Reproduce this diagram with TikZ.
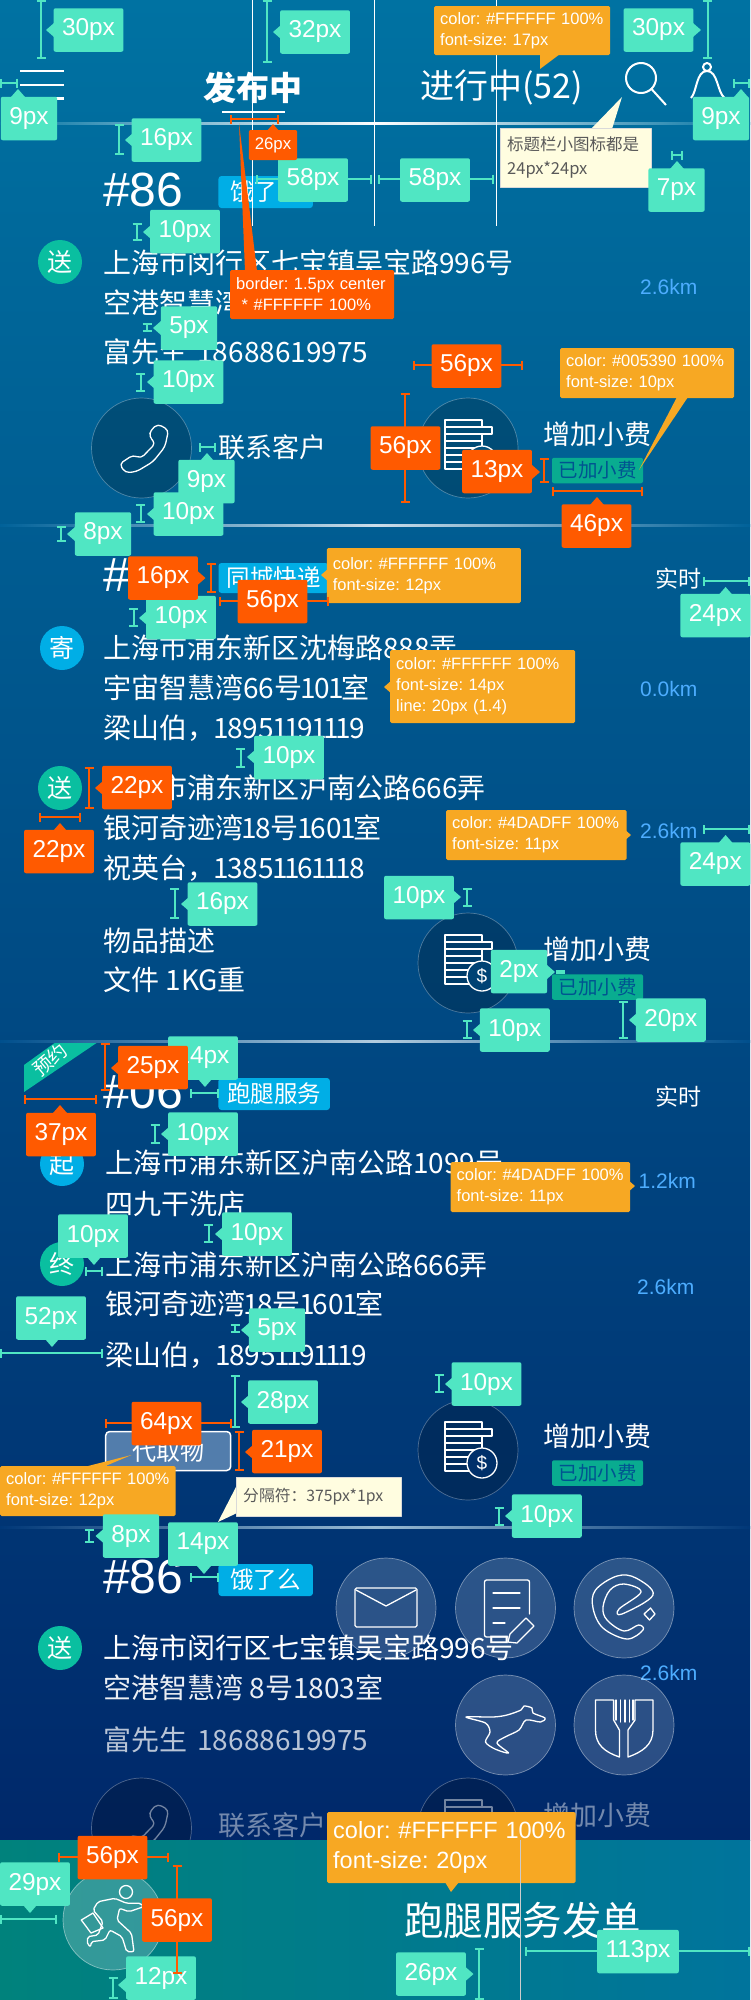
\documentclass[tikz,border=0pt]{standalone}
\usepackage{fontspec}
\setmainfont{Liberation Sans}
\newfontfamily\cjk{Noto Sans CJK SC}
\usetikzlibrary{arrows.meta}
\definecolor{gtagc}{HTML}{50E6C3}
\definecolor{otagc}{HTML}{FF5A00}
\definecolor{callc}{HTML}{F7A823}
\definecolor{sendc}{HTML}{0ABFA0}
\definecolor{bluec}{HTML}{00AEE6}
\definecolor{kmc}{HTML}{4DADFF}
\definecolor{feec}{HTML}{005390}
\definecolor{bgtop}{RGB}{0,114,162}
\definecolor{bgmid}{RGB}{0,85,146}
\definecolor{bgend}{RGB}{0,40,106}
\definecolor{barleft}{RGB}{0,130,124}
\definecolor{barright}{RGB}{0,116,156}
\definecolor{fetchc}{RGB}{82,125,172}
\definecolor{coina}{RGB}{0,82,128}
\definecolor{coinb}{RGB}{0,66,116}
\definecolor{coinc}{RGB}{0,48,106}
\definecolor{coind}{RGB}{0,40,95}
\newcommand{\tipL}[3]{\fill[#1] (#2,#3) -- ++(8,-7) -- ++(0,14) -- cycle;}
\newcommand{\tipR}[3]{\fill[#1] (#2,#3) -- ++(-8,-7) -- ++(0,14) -- cycle;}
\newcommand{\tipU}[3]{\fill[#1] (#2,#3) -- ++(-7,8) -- ++(14,0) -- cycle;}
\newcommand{\tipD}[3]{\fill[#1] (#2,#3) -- ++(-7,-8) -- ++(14,0) -- cycle;}
\newcommand{\nar}{\kern-1.75pt 1\kern-1.75pt}
\tikzset{
  gtag/.style={fill=gtagc,text=white,rounded corners=2pt,inner xsep=8.5pt,inner ysep=0pt,minimum height=43.5pt,font=\fontsize{24.4}{26}\selectfont},
  otag/.style={gtag,fill=otagc},
  gdim/.style={draw=gtagc,line width=2pt,{Bar[width=9pt,line width=2pt]}-{Bar[width=9pt,line width=2pt]}},
  odim/.style={gdim,draw=otagc},
  ocall/.style={fill=callc,text=white,rounded corners=1.5pt,anchor=west,align=left,inner xsep=6pt,inner ysep=2pt,font=\fontsize{16.5}{21}\selectfont},
  ynote/.style={fill=yellow!12,draw=black!15,text=black!65,anchor=west,align=left,inner xsep=7pt,inner ysep=2pt,font=\cjk\fontsize{16.5}{24}\selectfont},
  addr/.style={text=white,anchor=west,inner sep=0pt,font=\cjk\fontsize{28}{30}\selectfont},
  num/.style={text=white,anchor=west,inner sep=0pt,font=\fontsize{48}{50}\selectfont},
  km/.style={text=kmc,anchor=west,inner sep=0pt,font=\fontsize{21}{24}\selectfont},
  dots/.style={circle,minimum size=44pt,inner sep=0pt,fill=sendc,text=white,font=\cjk\fontsize{25}{27}\selectfont},
  dotb/.style={dots,fill=bluec},
  kind/.style={fill=bluec,text=white,rounded corners=3pt,inner sep=0pt,font=\cjk\fontsize{23.5}{25}\selectfont},
  fee/.style={fill=sendc!90!black,text=feec,rounded corners=2pt,inner sep=0pt,minimum width=91pt,minimum height=25.5pt,font=\cjk\fontsize{19.5}{21}\selectfont},
  act/.style={text=white,anchor=west,inner sep=0pt,font=\cjk\fontsize{27}{29}\selectfont},
  roundbtn/.style={circle,minimum size=100pt,inner sep=0pt,draw=white,draw opacity=.3,line width=.7pt},
  menubtn/.style={roundbtn,fill=white,fill opacity=.17,draw opacity=.42},
  lineicon/.style={draw=white,line width=1.3pt,line join=round,line cap=round},
  pics/phoneicon/.style={code={
    \draw[lineicon,rounded corners=4pt] (16.5,-24) -- (27,-18) -- (23.5,-1.3) -- (11.5,13.7) -- (-5.2,23.7) -- (-16.2,24.7) -- (-22,16) -- (-8.5,7) -- (-.5,10.3) -- (14,-4.7) -- (7.7,-11.3) -- (9.2,-18) -- cycle;
  }},
  pics/coinicon/.style={code={
    \draw[lineicon] (-23,-28) rectangle (14,-21) (-23,-21) rectangle (24,-14) (-23,-14) rectangle (14,21);
    \draw[lineicon] (-23,-7) -- (14,-7) (-23,0) -- (14,0) (-23,7) -- (14,7) (-23,14) -- (14,14);
    \draw[lineicon,fill=#1] (14,13) circle (15);
    \node[text=white,inner sep=0pt,font=\fontsize{19}{20}\selectfont] at (14,13) {\$};
  }},
}
\begin{document}
\frenchspacing
\begin{tikzpicture}[x=1pt,y=-1pt,line join=round]
\useasboundingbox (0,0) rectangle (750,2000);
% 背景
\shade[top color=bgtop,middle color=bgmid,bottom color=bgend] (0,0) rectangle (750,1840);

% 第一单
\node[num] (numA) at (103,190) {\#86};
\node[kind,minimum width=94.5pt,minimum height=32pt] (kindA) at (265.7,192) {饿了么};
\node[dots] (sendA) at (60,262) {送};
\node[addr] (addrA1) at (103,263) {上海市闵行区七宝镇吴宝路996号};
\node[addr] (addrA2) at (103,303) {空港智慧湾 8号1803室};
\node[addr] (addrA3) at (103,352) {富先生\kern4pt{} 18688619975};
\node[km] (kmA) at (640,287) {2.6km};
\node[roundbtn,fill=black,fill opacity=.2] (callA) at (141.5,448) {};
\pic at (141.5,448) {phoneicon};
\node[act] (callTxtA) at (218,447) {联系客户};
\node[roundbtn,fill=black,fill opacity=.2] (coinA) at (468,448) {};
\pic at (468,448) {coinicon=coina};
\node[act] (coinTxtA) at (543,434) {增加小费};
\node[fee] (feeA) at (597.5,470.5) {已加小费};

% 第二单
\node[num] (numB) at (103,575) {\#85};
\node[kind,minimum width=110pt,minimum height=30pt] (kindB) at (273.5,578) {同城快递};
\node[text=white,anchor=west,inner sep=0pt,font=\cjk\fontsize{23}{25}\selectfont] (timeB) at (655,579) {实时};
\node[dotb] (sendB) at (62,648) {寄};
\node[addr] (addrB1) at (103,648) {上海市浦东新区沈梅路888弄};
\node[addr] (addrB2) at (103,688) {宇宙智慧湾66号\nar0\nar{}室};
\node[addr] (addrB3) at (103,728) {梁山伯，\nar895\nar\nar9\nar\nar\nar9};
\node[km] (kmB) at (640,689) {0.0km};
\node[dots] (sendB2) at (60,788) {送};
\node[addr] (addrB4) at (103,788) {上海市浦东新区沪南公路666弄};
\node[addr] (addrB5) at (103,828) {银河奇迹湾\nar8号\nar60\nar{}室};
\node[addr] (addrB6) at (103,868) {祝英台，\nar385\nar\nar6\nar\nar\nar8};
\node[km] (kmB2) at (640,831) {2.6km};
\node[addr] (addrB7) at (103,941) {物品描述};
\node[addr] (addrB8) at (103,980) {文件 1KG重};
\node[roundbtn,fill=black,fill opacity=.2] (coinB) at (468,963) {};
\pic at (468,963) {coinicon=coinb};
\node[act] (coinTxtB) at (543,949) {增加小费};
\node[fee] (feeB) at (597.5,987) {已加小费};

% 第三单
\fill[sendc] (56,1042) -- (98,1042) -- (24,1092) -- (24,1065) -- cycle;
\node[text=white,rotate=40,inner sep=0pt,font=\cjk\fontsize{19}{20}\selectfont] (flagC) at (50,1060) {预约};
\node[num] (numC) at (103,1092) {\#06};
\node[kind,minimum width=111.5pt,minimum height=32pt] (kindC) at (274.2,1094) {跑腿服务};
\node[text=white,anchor=west,inner sep=0pt,font=\cjk\fontsize{23}{25}\selectfont] (timeC) at (655,1097) {实时};
\node[dotb] (startC) at (62,1164) {起};
\node[addr] (addrC1) at (105,1163) {上海市浦东新区沪南公路1099号};
\node[addr] (addrC2) at (105,1204) {四九干洗店};
\node[km] (kmC) at (638.5,1181) {1.2km};
\node[dots] (endC) at (62,1264) {终};
\node[addr] (addrC3) at (105,1265) {上海市浦东新区沪南公路666弄};
\node[addr] (addrC4) at (105,1304) {银河奇迹湾\nar8号\nar60\nar{}室};
\node[addr] (addrC5) at (105,1355) {梁山伯，\nar895\nar\nar9\nar\nar\nar9};
\node[km] (kmC2) at (637,1287) {2.6km};
\node[fill=fetchc,draw=white,line width=1.5pt,rounded corners=4pt,minimum width=125pt,minimum height=39pt,inner sep=0pt,text=white,font=\cjk\fontsize{24}{26}\selectfont] (fetchC) at (168.2,1451) {代取物};
\node[roundbtn,fill=black,fill opacity=.2] (coinC) at (468,1450) {};
\pic at (468,1450) {coinicon=coinc};
\node[act] (coinTxtC) at (543,1436) {增加小费};
\node[fee] (feeC) at (597.5,1473) {已加小费};

% 第四单
\node[num] (numD) at (103,1577) {\#86};
\node[kind,minimum width=94.5pt,minimum height=32pt] (kindD) at (265.7,1580) {饿了么};
\node[dots] (sendD) at (60,1648) {送};
\node[addr] (addrD1) at (103,1648) {上海市闵行区七宝镇吴宝路996号};
\node[addr,text opacity=.92] (addrD2) at (103,1688) {空港智慧湾 8号1803室};
\node[addr,text opacity=.72] (addrD3) at (103,1740) {富先生\kern4pt{} 18688619975};
\node[km] (kmD) at (640,1673) {2.6km};
\begin{scope}[opacity=.45]
\node[roundbtn,fill=black,fill opacity=.2] (callD) at (141.5,1828) {};
\pic at (141.5,1828) {phoneicon};
\node[act] (callTxtD) at (218,1825) {联系客户};
\node[roundbtn,fill=black,fill opacity=.2] (coinD) at (468,1828) {};
\pic at (468,1828) {coinicon=coind};
\node[act] (coinTxtD) at (543,1815) {增加小费};
\end{scope}

% 分隔线
\shade[left color=bgtop,right color=bgtop,middle color=white] (0,122) rectangle (750,124);
\shade[left color=bgtop!43!bgmid,right color=bgtop!43!bgmid,middle color=white!80!bgmid] (0,524.5) rectangle (750,526.5);
\shade[left color=bgmid!87!bgend,right color=bgmid!87!bgend,middle color=white!70!bgmid] (0,1040) rectangle (750,1042);
\shade[left color=bgmid!34!bgend,right color=bgmid!34!bgend,middle color=white!60!bgmid] (0,1526) rectangle (750,1528);

% 悬浮菜单
\node[menubtn] (mailBtn) at (386,1608) {};
\node[menubtn] (docBtn) at (505.5,1608) {};
\node[menubtn] (elemeBtn) at (624,1608) {};
\node[menubtn] (birdBtn) at (505.5,1725) {};
\node[menubtn] (forkBtn) at (624,1725) {};
\draw[lineicon,rounded corners=1.5pt] (355,1588) rectangle (417,1627);
\draw[lineicon] (356,1590) -- (386,1606) -- (416,1590);
\draw[lineicon,rounded corners=2pt] (529.5,1614) -- (529.5,1580) -- (484.5,1580) -- (484.5,1637) -- (508,1637);
\draw[lineicon] (493,1593) -- (520,1593) (493,1608) -- (520,1608) (493,1623) -- (505,1623);
\draw[lineicon] (526,1618) -- (534,1626) -- (517,1643) -- (508,1642) -- (510,1634) -- cycle;
\draw[lineicon] plot[smooth cycle,tension=.6] coordinates {(653,1595) (636,1578) (617,1576) (595.5,1590) (593,1608) (603,1628) (627,1639) (643,1630) (638.5,1625) (624,1631) (607,1620) (603,1607) (610,1590) (624,1584) (641,1592) (619,1609) (622,1614)};
\draw[lineicon] (650.5,1608) -- (655,1614) -- (649.5,1620) -- (644,1614) -- cycle;
\draw[lineicon] plot[smooth cycle,tension=.5] coordinates {(466,1717) (493,1717) (507,1715) (521,1710) (524,1706) (532,1708) (533,1713) (545,1718) (540.5,1722) (526,1720) (519,1730) (505,1737) (497,1743) (508.5,1753) (495,1749) (485.5,1742) (490,1732) (485.5,1723)};
\draw[lineicon] (595.5,1700) -- (613.6,1700) -- (613.6,1720) -- (619.4,1730) -- (619.4,1757) .. controls (605,1752) and (595.5,1745) .. (595.5,1730) -- cycle;
\draw[lineicon] (653,1700) -- (635,1700) -- (635,1720) -- (628,1730) -- (628,1757) .. controls (642,1752) and (653,1745) .. (653,1730) -- cycle;
\draw[lineicon] (616,1700) -- (616,1720) (620.5,1700) -- (620.5,1722) (625,1700) -- (625,1722) (629.5,1700) -- (629.5,1722) (633,1700) -- (633,1720);

% 底部发单栏
\shade[left color=barleft,right color=barright] (0,1840) rectangle (750,2000);
\node[roundbtn,fill=white,fill opacity=.2,draw opacity=.45] (runBtn) at (113,1920) {};
\draw[lineicon] (126,1892) circle (6.5);
\draw[lineicon,rounded corners=2pt] (98,1901.7) -- (114.8,1898.3) -- (126.7,1903.3) -- (141,1903.3) -- (143.5,1906.7) -- (129,1911.7) -- (119.6,1908.3) -- (117,1920) -- (131.5,1933.3) -- (134,1951.7) -- (126.7,1951.7) -- (122,1936.7) -- (110,1930) -- (105,1940) -- (91,1941.7) -- (91,1946.7) -- (87.5,1945) -- (87.5,1936.7) -- (98,1935) -- (103,1921.7) -- (93,1910) -- cycle;
\draw[lineicon] (81.3,1920) -- (93,1913) -- (103,1928) -- (91,1933) -- cycle;
\node[text=white,anchor=west,inner sep=0pt,font=\cjk\fontsize{39.5}{42}\selectfont] (sendTxt) at (404,1920) {跑腿服务发单};

% 顶部标题栏
\draw[white,line width=2.5pt] (20,71) -- (64,71) (20,85) -- (64,85) (20,98.5) -- (64,98.5);
\node[text=white,anchor=west,inner sep=0pt,font=\cjk\bfseries\fontsize{33}{35}\selectfont] (tabA) at (203,88) {发布中};
\node[text=white,anchor=west,inner sep=0pt,font=\cjk\fontsize{34}{35}\selectfont] (tabB) at (420,88) {进行中(52)};
\draw[white,line width=2.5pt] (222,112) -- (285,112);
\draw[white,line width=2pt] (641,78) circle (15) (651.5,89) -- (666,105);
\draw[white,line width=2pt] (707,67) circle (4);
\draw[white,line width=2pt] (691,98) .. controls (697,92) and (696,71) .. (707,71) .. controls (718,71) and (717,92) .. (724.6,98);
\draw[white!85,line width=1pt] (252.5,0) -- (252.5,226) (374.5,0) -- (374.5,226) (496.5,0) -- (496.5,226);

% 说明框
\fill[otagc] (239,123) -- (245,271) -- (257,271) -- cycle;
\node[ocall,fill=otagc,text width=152pt,minimum height=49pt] (noteBorder) at (230,294.5) {border: 1.5px center\\\ * \#FFFFFF 100\%};
\node[ocall,text width=164pt,minimum height=49pt] (noteTab) at (434,30.5) {color: \#FFFFFF 100\%\\font-size: 17px};
\fill[callc] (540,54) -- (560,54) -- (540,69) -- cycle;
\node[ocall,text width=162pt,minimum height=50pt] (noteFee) at (560,373) {color: \#005390 100\%\\font-size: 10px};
\fill[callc] (677,397) -- (688,397) -- (639,470) -- cycle;
\node[ocall,text width=182pt,minimum height=55pt] (noteKind) at (326.7,575.5) {color: \#FFFFFF 100\%\\font-size: 12px};
\tipL{callc}{321}{575}
\node[ocall,text width=173pt,minimum height=73pt] (noteAddr) at (390,686.5) {color: \#FFFFFF 100\%\\font-size: 14px\\line: 20px (1.4)};
\tipL{callc}{384}{687}
\node[ocall,text width=168.5pt,minimum height=50pt] (noteKmB) at (446,835) {color: \#4DADFF 100\%\\font-size: 11px};
\tipR{callc}{631}{835}
\node[ocall,text width=167.5pt,minimum height=50pt] (noteKmC) at (450.5,1187) {color: \#4DADFF 100\%\\font-size: 11px};
\tipR{callc}{635}{1186}
\fill[callc] (84,1467) -- (103,1467) -- (131.5,1455) -- cycle;
\node[ocall,text width=163.5pt,minimum height=50pt] (noteFetch) at (0,1491) {color: \#FFFFFF 100\%\\font-size: 12px};
\fill[yellow!12] (591,129) -- (612,129) -- (622,97) -- cycle;
\node[ynote,text width=137pt,minimum height=59pt] (noteIcon) at (500,157.5) {标题栏小图标都是\\24px*24px};
\fill[yellow!12] (237,1485) -- (237,1513) -- (218,1522) -- cycle;
\node[ynote,text width=151pt,minimum height=39pt,font=\cjk\fontsize{15.8}{18}\selectfont] (noteSep) at (236,1496.5) {分隔符：375px*1px};
\node[ocall,text width=236.5pt,minimum height=71pt,font=\fontsize{23.5}{30}\selectfont] (noteSend) at (327,1847.5) {color: \#FFFFFF 100\%\\font-size: 20px};
\fill[callc] (445,1882) -- (459,1882) -- (451,1892) -- cycle;
\draw[black!20,line width=1pt] (520.5,1840) -- (520.5,2000);

% 绿色标注
\draw[gdim] (41,0) -- (41,59); \tipL{gtagc}{46}{30}
\node[gtag] (t30a) at (88.5,30) {30px};
\draw[gdim] (267,0) -- (267,63); \tipL{gtagc}{273}{32}
\node[gtag] (t32a) at (315,32) {32px};
\draw[gdim] (707.5,0) -- (707.5,59); \tipR{gtagc}{701}{30}
\node[gtag] (t30b) at (658.5,30) {30px};
\draw[gdim] (0,83) -- (18,83); \tipU{gtagc}{18}{89}
\node[gtag] (t9a) at (29,118.5) {9px};
\draw[gdim] (733,83) -- (750,83); \tipU{gtagc}{741}{89}
\node[gtag] (t9b) at (721,118.5) {9px};
\draw[gdim] (119,124) -- (119,155); \tipL{gtagc}{125}{140}
\node[gtag] (t16a) at (166.5,140) {16px};
\draw[gdim] (256,179) -- (372,179);
\node[gtag] (t58a) at (313,180) {58px};
\draw[gdim] (378,179) -- (494,179);
\node[gtag] (t58b) at (435,180) {58px};
\draw[gdim] (671,155) -- (683,155); \tipU{gtagc}{677}{161}
\node[gtag] (t7a) at (676.5,190) {7px};
\draw[gdim] (137,223) -- (137,241); \tipL{gtagc}{143}{232}
\node[gtag] (t10a) at (185,231.5) {10px};
\draw[gdim] (147,323) -- (147,332); \tipL{gtagc}{153}{328}
\node[gtag] (t5a) at (189,328) {5px};
\draw[gdim] (140.6,373) -- (140.6,392); \tipL{gtagc}{147}{382}
\node[gtag] (t10b) at (188.5,382) {10px};
\draw[gdim] (198.5,447) -- (216,447); \tipU{gtagc}{207}{453}
\node[gtag] (t9c) at (206.5,481.5) {9px};
\draw[gdim] (140.6,504) -- (140.6,523); \tipL{gtagc}{147}{514}
\node[gtag] (t10c) at (188.5,514) {10px};
\draw[gdim] (61,526) -- (61,542); \tipL{gtagc}{67}{534}
\node[gtag] (t8a) at (103,534) {8px};
\draw[gdim] (133.5,608) -- (133.5,627); \tipL{gtagc}{139}{618}
\node[gtag] (t10d) at (181,617.5) {10px};
\draw[gdim] (703,581) -- (750,581); \tipU{gtagc}{725.6}{587}
\node[gtag] (t24a) at (715.3,615.5) {24px};
\draw[gdim] (240.6,748) -- (240.6,768); \tipL{gtagc}{247}{757}
\node[gtag] (t10e) at (289,757.5) {10px};
\draw[gdim] (703,829) -- (750,829); \tipU{gtagc}{725.6}{835}
\node[gtag] (t24b) at (715.3,864) {24px};
\draw[gdim] (174.6,888) -- (174.6,919); \tipL{gtagc}{181}{904}
\node[gtag] (t16b) at (222.5,904) {16px};
\draw[gdim] (467,888) -- (467,907); \tipR{gtagc}{461}{897}
\node[gtag] (t10f) at (419,897.5) {10px};
\draw[gdim] (560,970) -- (560,974); \tipR{gtagc}{555}{972}
\node[gtag] (t2a) at (519,971.5) {2px};
\draw[gdim] (623,1001) -- (623,1039); \tipL{gtagc}{629}{1020}
\node[gtag] (t20a) at (670.8,1020) {20px};
\draw[gdim] (467,1020) -- (467,1039); \tipL{gtagc}{473}{1030}
\node[gtag] (t10g) at (514.8,1030) {10px};
\draw[gdim] (190,1093) -- (218.5,1093); \tipD{gtagc}{205}{1087}
\node[gtag] (t14a) at (203,1058) {14px};
\draw[gdim] (155,1124) -- (155,1144); \tipL{gtagc}{161}{1134}
\node[gtag] (t10h) at (203,1134) {10px};
\draw[gdim] (85,1271) -- (103,1271); \tipD{gtagc}{94}{1265}
\node[gtag] (t10i) at (93,1236) {10px};
\draw[gdim] (208.5,1224) -- (208.5,1243); \tipL{gtagc}{215}{1234}
\node[gtag] (t10j) at (257,1234) {10px};
\draw[gdim] (0,1353) -- (103,1353); \tipD{gtagc}{52}{1347}
\node[gtag] (t52a) at (51,1318) {52px};
\draw[gdim] (235,1324) -- (235,1333); \tipL{gtagc}{241}{1330}
\node[gtag] (t5b) at (277,1330) {5px};
\draw[gdim] (235,1375) -- (235,1428); \tipL{gtagc}{241}{1402}
\node[gtag] (t28a) at (283,1402) {28px};
\draw[gdim] (439,1374) -- (439,1393); \tipL{gtagc}{445}{1384}
\node[gtag] (t10k) at (486.5,1384) {10px};
\draw[gdim] (499,1507) -- (499,1526); \tipL{gtagc}{505}{1516}
\node[gtag] (t10l) at (546.8,1516) {10px};
\draw[gdim] (89,1529) -- (89,1543); \tipL{gtagc}{95.5}{1536}
\node[gtag] (t8b) at (131,1536) {8px};
\draw[gdim] (190,1577) -- (218.5,1577); \tipD{gtagc}{204}{1574}
\node[gtag] (t14b) at (203,1544) {14px};
\draw[gdim] (0,1919) -- (57.4,1919); \tipD{gtagc}{30}{1913}
\node[gtag] (t29a) at (35,1884) {29px};
\draw[gdim] (113,1977) -- (113,1999); \tipL{gtagc}{118}{1985}
\node[gtag] (t12a) at (161,1978) {12px};
\draw[gdim] (479,1948) -- (479,2000); \tipR{gtagc}{473.5}{1974}
\node[gtag] (t26a) at (431,1974) {26px};
\draw[gdim] (525,1951) -- (750,1951);
\node[gtag] (t113a) at (638,1951.5) {113px};

% 橙色标注
\draw[odim] (229.5,119) -- (279,119); \tipU{otagc}{273}{124}
\node[otag,minimum height=30pt,inner xsep=6pt,font=\fontsize{16.8}{18}\selectfont] (o26a) at (273,145) {26px};
\draw[odim] (413,365) -- (523,365);
\node[otag] (o56a) at (466.5,366) {56px};
\draw[odim] (405,393) -- (405,503);
\node[otag] (o56b) at (405.5,448) {56px};
\draw[odim] (544,458) -- (544,483); \tipR{otagc}{540}{472}
\node[otag] (o13a) at (497,471.5) {13px};
\draw[odim] (552,491) -- (643,491); \tipU{otagc}{597}{497}
\node[otag] (o46a) at (596.5,526) {46px};
\draw[odim] (211,563) -- (211,593); \tipR{otagc}{205.5}{578}
\node[otag] (o16a) at (163,578) {16px};
\draw[odim] (218.5,601) -- (329,601);
\node[otag] (o56c) at (272.5,601.5) {56px};
\draw[odim] (89,767) -- (89,809); \tipL{otagc}{95}{788}
\node[otag] (o22a) at (137,787.5) {22px};
\draw[odim] (39,817) -- (81,817); \tipU{otagc}{60}{823}
\node[otag] (o22b) at (59,851.5) {22px};
\draw[odim] (105,1043) -- (105,1091); \tipL{otagc}{111}{1068}
\node[otag] (o25a) at (153,1067.5) {25px};
\draw[odim] (24,1099) -- (97,1099); \tipU{otagc}{60}{1105}
\node[otag] (o37a) at (61,1134.5) {37px};
\draw[odim] (105,1423) -- (231.5,1423);
\node[otag] (o64a) at (166.5,1423.5) {64px};
\draw[odim] (239,1431) -- (239,1471); \tipL{otagc}{245}{1452}
\node[otag] (o21a) at (287,1451.5) {21px};
\draw[odim] (58,1857) -- (169,1857);
\node[otag] (o56d) at (112.5,1857.5) {56px};
\draw[odim] (177,1865) -- (177,1974);
\node[otag] (o56e) at (177,1920) {56px};
\end{tikzpicture}
\end{document}
